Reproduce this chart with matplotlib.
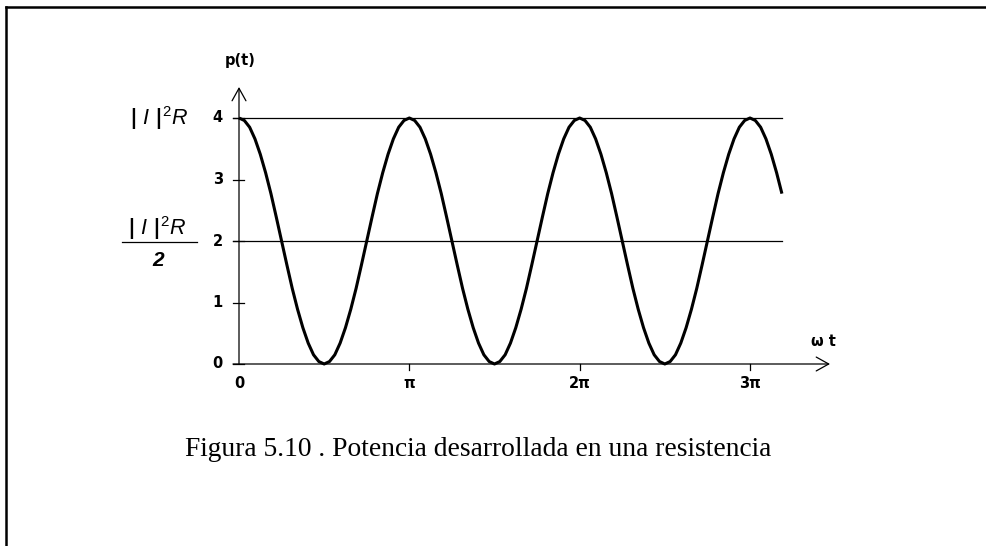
import numpy as np
import matplotlib.pyplot as plt

plt.rcParams['mathtext.fontset'] = 'custom'
plt.rcParams['mathtext.rm'] = 'Liberation Sans'
plt.rcParams['mathtext.it'] = 'Liberation Sans:italic'
plt.rcParams['mathtext.bf'] = 'DejaVu Sans:bold'

# p(t) read at steps of pi/32 along wt
p = [4.00, 3.96, 3.85, 3.66, 3.41, 3.11, 2.77, 2.39, 2.00, 1.61, 1.23, 0.89, 0.59, 0.34, 0.15, 0.04,
     0.00, 0.04, 0.15, 0.34, 0.59, 0.89, 1.23, 1.61, 2.00, 2.39, 2.77, 3.11, 3.41, 3.66, 3.85, 3.96,
     4.00, 3.96, 3.85, 3.66, 3.41, 3.11, 2.77, 2.39, 2.00, 1.61, 1.23, 0.89, 0.59, 0.34, 0.15, 0.04,
     0.00, 0.04, 0.15, 0.34, 0.59, 0.89, 1.23, 1.61, 2.00, 2.39, 2.77, 3.11, 3.41, 3.66, 3.85, 3.96,
     4.00, 3.96, 3.85, 3.66, 3.41, 3.11, 2.77, 2.39, 2.00, 1.61, 1.23, 0.89, 0.59, 0.34, 0.15, 0.04,
     0.00, 0.04, 0.15, 0.34, 0.59, 0.89, 1.23, 1.61, 2.00, 2.39, 2.77, 3.11, 3.41, 3.66, 3.85, 3.96,
     4.00, 3.96, 3.85, 3.66, 3.41, 3.11, 2.77]
wt = np.arange(len(p)) * np.pi / 32

ref_levels = [4, 2]
y_ticks = [0, 1, 2, 3, 4]
x_ticks = [0, np.pi, 2*np.pi, 3*np.pi]
x_labels = ['0', 'π', '2π', '3π']

fig = plt.figure(figsize=(9.87, 5.46), dpi=100)
ax = fig.add_axes([0, 0, 1, 1])
ax.axis('off')
# data limits chosen so the whole figure is one coordinate frame
px = np.pi / 170.33
py = 1 / 61.5
ax.set_xlim(-239 * px, (987 - 239) * px)
ax.set_ylim(-(546 - 364) * py, 364 * py)

# border (top and left only)
bx = -233 * px
by = (364 - 7) * py
ax.plot([bx, bx], [ax.get_ylim()[0], by], color='black', lw=1.8, clip_on=False)
ax.plot([bx, 760 * px], [by, by], color='black', lw=1.8, clip_on=False)

# reference lines at |I|^2 R and |I|^2 R / 2
for lv in ref_levels:
    ax.plot([-6 * px, 3.19 * np.pi], [lv, lv], color='black', lw=0.9)

# axes with arrows
arrow = dict(arrowstyle='->, head_length=0.45, head_width=0.25', color='black',
             lw=0.9, shrinkA=0, shrinkB=0, mutation_scale=20)
ax.annotate('', xy=(591 * px, 0), xytext=(-6 * px, 0), arrowprops=arrow)
ax.annotate('', xy=(0, (364 - 87) * py), xytext=(0, 0), arrowprops=arrow)

lab_font = dict(fontsize=10.5, fontweight='bold', family='DejaVu Sans')

# ticks
for yt in y_ticks:
    ax.plot([-6 * px, 5 * px], [yt, yt], color='black', lw=0.9)
    ax.text(-16 * px, yt, str(yt), ha='right', va='center', **lab_font)
for xt, lab in zip(x_ticks, x_labels):
    if xt > 0:
        ax.plot([xt, xt], [0, -6 * py], color='black', lw=0.9)
    ax.text(xt, -19 * py, lab, ha='center', va='center', **lab_font)

ax.text(1 * px, (364 - 60) * py, 'p(t)', ha='center', va='center', **lab_font)
ax.text(584 * px, 22 * py, 'ω t', ha='center', va='center', **lab_font)

# curve
ax.plot(wt, p, color='black', lw=2.2, solid_capstyle='butt')

# symbolic labels on the left
sym = r'$\mathbf{|}\ I\ \mathbf{|}^{2}R$'
ax.text(-80 * px, 4, sym, ha='center', va='center', fontsize=15.5)
ax.text(-82 * px, (364 - 228) * py, sym, ha='center', va='center', fontsize=15.5)
ax.plot([-117 * px, -42 * px], [(364 - 242) * py] * 2, color='black', lw=0.9)
ax.text(-81 * px, (364 - 261) * py, '2', ha='center', va='center',
        fontsize=15, fontweight='bold', fontstyle='italic', family='Liberation Sans')

ax.text(239 * px, (364 - 450) * py,
        'Figura 5.10 . Potencia desarrollada en una resistencia',
        ha='center', va='center', fontsize=19.8, family='Liberation Serif')

fig.savefig('out.png', dpi=100)
